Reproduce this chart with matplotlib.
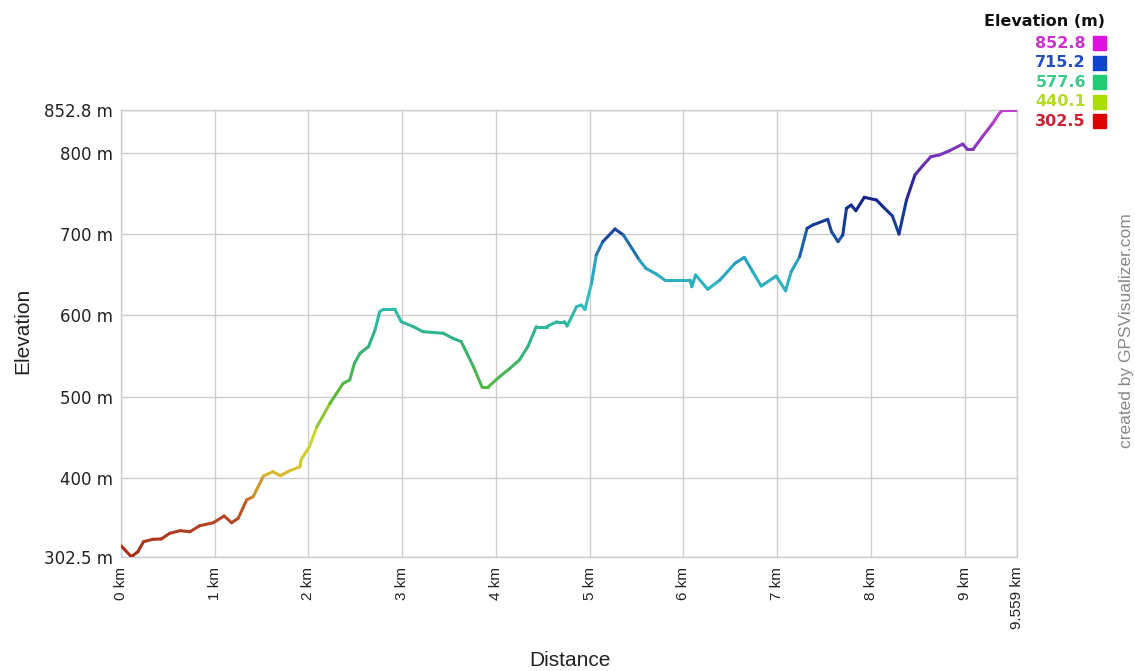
import numpy as np
import matplotlib
matplotlib.use("Agg")
import matplotlib.pyplot as plt
from matplotlib.collections import LineCollection
from matplotlib.colors import LinearSegmentedColormap, Normalize

plt.rcParams['font.family'] = ['Liberation Sans', 'DejaVu Sans']

# distance (km) and elevation (m)
dist = [0.00, 0.11, 0.18, 0.24, 0.34, 0.43, 0.52, 0.63, 0.735, 0.84, 0.985,
        1.10, 1.18, 1.25, 1.34, 1.41, 1.52, 1.62, 1.70, 1.80, 1.91, 1.92,
        2.01, 2.09, 2.23, 2.37, 2.44, 2.49, 2.55, 2.64, 2.71, 2.76, 2.80,
        2.92, 2.99, 3.12, 3.22, 3.44, 3.54, 3.63, 3.76, 3.85, 3.92, 4.04,
        4.15, 4.25, 4.34, 4.43, 4.54, 4.65, 4.73, 4.76, 4.86, 4.91, 4.95,
        5.02, 5.07, 5.14, 5.27, 5.36, 5.53, 5.60, 5.71, 5.80, 6.07, 6.09,
        6.13, 6.26, 6.39, 6.55, 6.65, 6.74, 6.83, 6.99, 7.09, 7.15, 7.24,
        7.32, 7.38, 7.54, 7.58, 7.65, 7.70, 7.74, 7.79, 7.84, 7.93, 8.06,
        8.13, 8.23, 8.30, 8.38, 8.47, 8.56, 8.64, 8.73, 8.84, 8.98, 9.03,
        9.09, 9.19, 9.30, 9.37, 9.41, 9.559]
elev = [316.4, 302.9, 309.0, 321.3, 324.3, 324.7, 331.7, 334.9, 333.6, 341.0, 344.7,
        353.0, 344.7, 350.1, 372.7, 376.7, 402.2, 407.5, 402.6, 408.7, 413.7, 421.9,
        438.3, 462.9, 491.7, 516.3, 520.4, 540.9, 553.3, 561.4, 581.9, 604.5, 607.4,
        607.4, 592.2, 586.0, 579.9, 577.9, 571.7, 567.6, 536.8, 512.2, 512.2, 524.5,
        534.8, 545.0, 561.4, 586.0, 586.0, 592.2, 592.2, 586.9, 610.7, 612.7, 607.4,
        639.4, 674.3, 690.7, 706.3, 698.9, 668.1, 657.9, 650.9, 643.5, 643.5, 635.3,
        649.7, 632.1, 643.5, 664.0, 671.4, 653.7, 636.1, 648.4, 630.3, 653.7, 672.2,
        707.2, 711.2, 718.2, 703.0, 690.7, 698.9, 731.8, 735.8, 728.8, 745.3, 742.0,
        733.7, 722.3, 700.1, 742.0, 772.8, 785.1, 795.3, 797.4, 802.7, 810.9, 804.4,
        804.4, 820.0, 836.4, 848.7, 852.8, 852.8]

y_ticks = [302.5, 400, 500, 600, 700, 800, 852.8]
y_labels = ["302.5 m", "400 m", "500 m", "600 m", "700 m", "800 m", "852.8 m"]
x_ticks = [0, 1, 2, 3, 4, 5, 6, 7, 8, 9, 9.559]
x_labels = ["0 km", "1 km", "2 km", "3 km", "4 km", "5 km", "6 km", "7 km",
            "8 km", "9 km", "9.559 km"]
legend_vals = ["852.8", "715.2", "577.6", "440.1", "302.5"]
legend_text_cols = ["#cc33cc", "#2250c0", "#3ccc88", "#b4dc2c", "#cc2233"]
legend_box_cols = ["#dd11dd", "#1144cc", "#22cc77", "#aadd00", "#dd0000"]

ymin, ymax = 302.5, 852.8
cmap = LinearSegmentedColormap.from_list("elev", [
    (0.00, "#a82818"), (0.10, "#b85028"), (0.19, "#d8c030"), (0.27, "#c8d830"),
    (0.36, "#60b838"), (0.48, "#30b080"), (0.58, "#30c0c0"), (0.66, "#28a0c0"),
    (0.72, "#1c4c9c"), (0.80, "#102488"), (0.88, "#6a30b0"), (1.00, "#c040d0")])
norm = Normalize(ymin, ymax)

fig = plt.figure(figsize=(11.35, 6.71), dpi=100)
ax = fig.add_axes([121/1135, 1 - 557/671, (1017 - 121)/1135, (557 - 110)/671])

pts = np.column_stack([dist, elev]).reshape(-1, 1, 2)
segs = np.concatenate([pts[:-1], pts[1:]], axis=1)
mid = (np.array(elev[:-1]) + np.array(elev[1:])) / 2
lc = LineCollection(segs, colors=cmap(norm(mid)), linewidths=2.2,
                    capstyle='round', joinstyle='round', zorder=3)
ax.add_collection(lc)

ax.set_xlim(0, 9.559)
ax.set_ylim(ymin, ymax)
ax.set_xticks(x_ticks)
ax.set_xticklabels(x_labels, rotation=90, fontsize=11, color="#222222")
ax.set_yticks(y_ticks)
ax.set_yticklabels(y_labels, fontsize=12, color="#222222", family=['DejaVu Sans'])
ax.tick_params(axis='y', length=0, pad=6)
ax.tick_params(axis='x', length=0, pad=7)
ax.grid(True, color="#cccccc", linewidth=1)
for s in ax.spines.values():
    s.set_color("#cccccc")
    s.set_linewidth(1)

fig.text(32/1135, 1 - 331/671, "Elevation", rotation=90, fontsize=15,
         color="#222222", ha='right', va='center')
fig.text(570/1135, 1 - 660/671, "Distance", fontsize=15,
         color="#222222", ha='center', va='center')

# legend
fig.text(1044/1135, 1 - 21/671, "Elevation (m)", fontsize=11.5, fontweight='bold',
         ha='center', va='center', color="#111111", family=['DejaVu Sans'])
for i, (v, tc, bc) in enumerate(zip(legend_vals, legend_text_cols, legend_box_cols)):
    yc = 43 + i * 19.6
    fig.text(1086/1135, 1 - yc/671, v, fontsize=11.5, fontweight='bold',
             ha='right', va='center', color=tc, family=['DejaVu Sans'])
    fig.patches.append(plt.Rectangle((1093/1135, 1 - (yc + 7)/671), 13/1135, 14/671,
                                     transform=fig.transFigure, color=bc))

fig.text(1127/1135, 1 - 331/671, "created by GPSVisualizer.com", rotation=90,
         fontsize=12.5, color="#888888", ha='center', va='center')

fig.savefig("out.png", dpi=100)
